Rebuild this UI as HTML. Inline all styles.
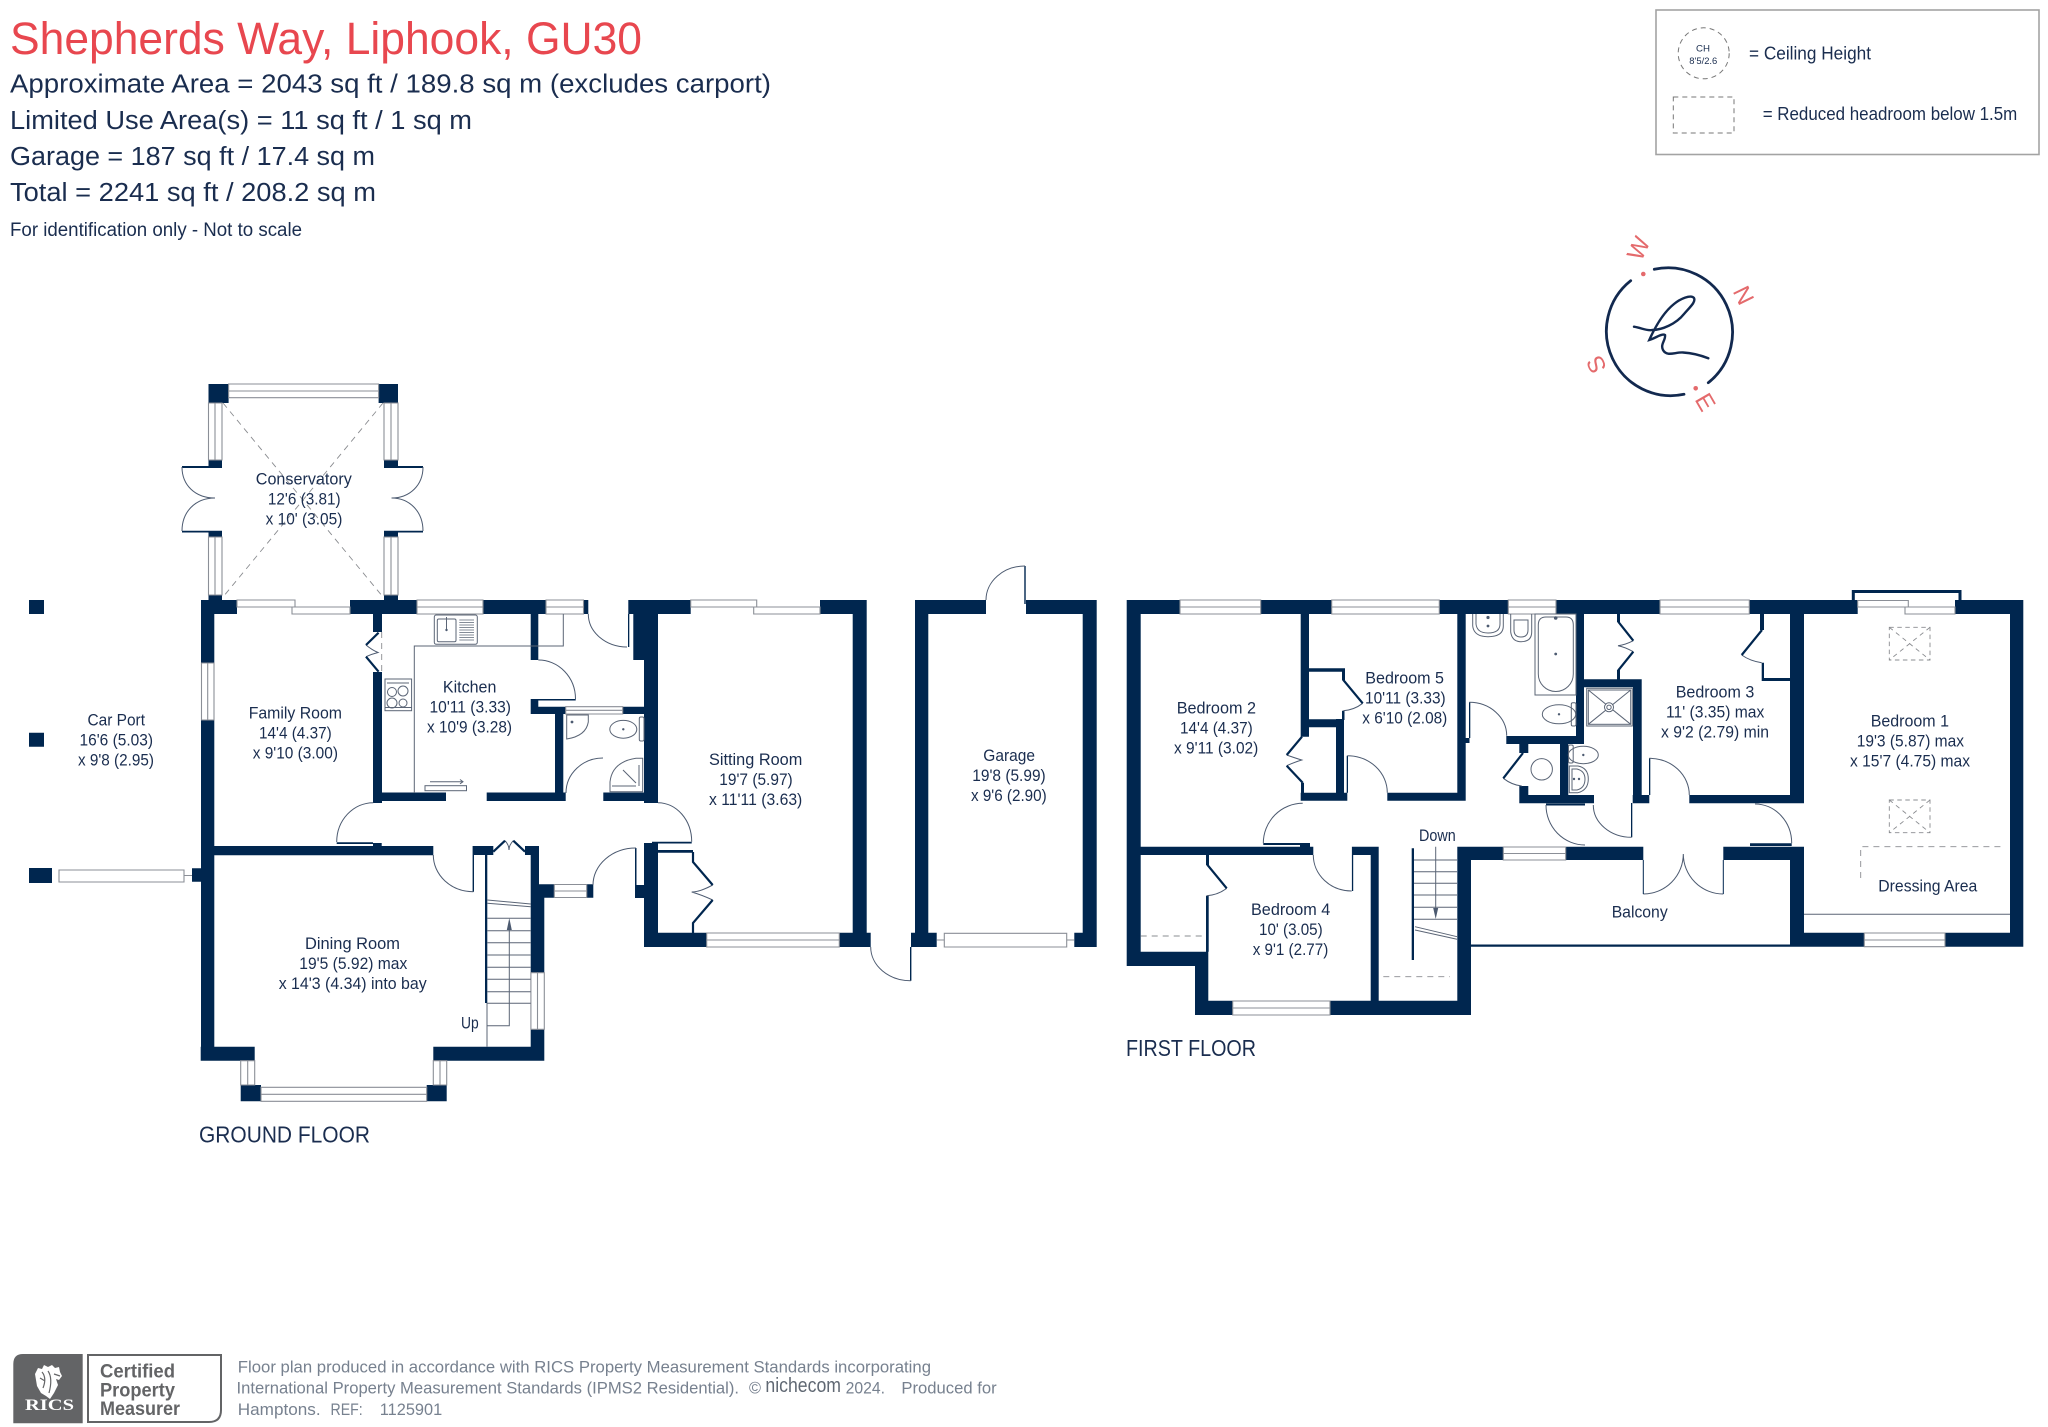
<!DOCTYPE html>
<html lang="en"><head><meta charset="utf-8"><title>Shepherds Way, Liphook, GU30</title>
<style>
html,body{margin:0;padding:0;background:#fff;width:2048px;height:1427px;overflow:hidden}
svg{display:block}
text{font-family:"Liberation Sans",sans-serif;fill:#1a2d4f}
.r text{font-size:16.5px}
.h text{font-size:25.5px}
.f text{font-size:16.5px;fill:#77818f}
.c text{font-size:24px;fill:#e46a6c;text-anchor:middle}
</style></head><body>
<svg xmlns="http://www.w3.org/2000/svg" width="2048" height="1427" viewBox="0 0 2048 1427">
<rect width="2048" height="1427" fill="#fff"/>

<!-- header -->
<text x="10" y="54" font-size="45" style="fill:#e8474f" textLength="632" lengthAdjust="spacingAndGlyphs">Shepherds Way, Liphook, GU30</text>
<g class="h">
<text x="10" y="92.5" textLength="761" lengthAdjust="spacingAndGlyphs">Approximate Area = 2043 sq ft / 189.8 sq m (excludes carport)</text>
<text x="10" y="129" textLength="462" lengthAdjust="spacingAndGlyphs">Limited Use Area(s) = 11 sq ft / 1 sq m</text>
<text x="10" y="165" textLength="365" lengthAdjust="spacingAndGlyphs">Garage = 187 sq ft / 17.4 sq m</text>
<text x="10" y="201" textLength="366" lengthAdjust="spacingAndGlyphs">Total = 2241 sq ft / 208.2 sq m</text>
</g>
<text x="10" y="236" font-size="19" textLength="292" lengthAdjust="spacingAndGlyphs">For identification only - Not to scale</text>

<!-- legend -->
<rect x="1656" y="10" width="383" height="144.5" fill="none" stroke="#a3a3a3" stroke-width="1.6"/>
<circle cx="1703.7" cy="53.3" r="25.5" fill="none" stroke="#777" stroke-width="1" stroke-dasharray="5 4"/>
<text x="1696" y="51.5" font-size="9.5" textLength="14" lengthAdjust="spacingAndGlyphs">CH</text>
<text x="1689.3" y="64" font-size="9.5" textLength="28" lengthAdjust="spacingAndGlyphs">8'5/2.6</text>
<text x="1749" y="59.3" font-size="18.5" textLength="122" lengthAdjust="spacingAndGlyphs">= Ceiling Height</text>
<rect x="1673.3" y="97" width="60.7" height="36" fill="none" stroke="#777" stroke-width="1" stroke-dasharray="5 4"/>
<text x="1762.7" y="120" font-size="18" textLength="254.6" lengthAdjust="spacingAndGlyphs">= Reduced headroom below 1.5m</text>

<!-- compass -->
<g fill="none" stroke="#12294f" stroke-width="2.8" stroke-linecap="round">
<path d="M1654.3 269.3A64.5 64.5 0 0 1 1708.3 382.7"/>
<path d="M1684 394.3A64.5 64.5 0 0 1 1630.7 280.7"/>
<path stroke-width="2.4" d="M1634 326.7C1642 328 1646 331 1652 330C1662 330 1676 324 1684 314C1690 307 1696 302 1694 298C1691 294 1680 299 1674 304C1664 312 1656 325 1649.3 340C1656 338 1662 333 1665 335C1666 340 1660 344 1663 350C1667 357 1675 352 1683 352.5C1692 353 1700 355 1708.3 358.3"/>
</g>
<circle cx="1643.3" cy="274" r="2.3" fill="#e46a6c"/><circle cx="1695.7" cy="388.3" r="2.3" fill="#e46a6c"/>
<g class="c">
<text transform="translate(1637.7 248) rotate(-65)" y="9">W</text>
<text transform="translate(1744.3 295) rotate(64)" y="9">N</text>
<text transform="translate(1706 401.7) rotate(60)" y="9">E</text>
<text transform="translate(1595.7 365) rotate(244)" y="9">S</text>
</g>

<!-- WALLS -->
<path fill="#00264f" d="
M208.5 384H228.6V403H208.5ZM378.6 384H398V403H378.6ZM208.5 460H222V467H208.5ZM384 460H398V467H384ZM182 466H222V468H182ZM384 466H423V468H384ZM182 530.7H222V532.5H182ZM384 530.7H423V532.5H384ZM208.5 531H222V537H208.5ZM384 531H398V537H384ZM208.5 595H222V600H208.5ZM384 595H398V600H384Z
M201 600H237V614H201ZM350 600H417V614H350ZM483 600H546V614H483ZM583.5 600H588.3V614H583.5ZM628.3 600H690.7V614H628.3ZM820 600H866.7V614H820ZM852.7 600H866.7V947H852.7Z
M201 600H214.3V663H201ZM201 720H214.3V1060.7H201ZM214 846H433.3V855.3H214ZM373 843H381.7V846H373ZM336.7 842.3H373V844H336.7Z
M373 614H382V632H373ZM373 672H382V803H373ZM382 792.5H446V801H382ZM486.7 792.5H565.7V801H486.7ZM530.7 614H538.3V660H530.7ZM530.7 699H538.3V714H530.7ZM538 699H575.7V700.5H538ZM530.7 706.7H565.7V714H530.7ZM555 714H563.3V793H555ZM603.3 792.5H645V801H603.3ZM622.7 706.7H645V714H622.7ZM644 660H658V803H644ZM633.3 614H658V660H633.3ZM628 614H629.3V647H628Z
M644 843H658V947H644ZM652 841.7H691.7V843.5H652ZM658 850H693V852.7H658ZM635 885H644V898H635ZM635 848H636.5V885H635ZM644 932.7H706.7V947H644ZM839.3 932.7H870.7V947H839.3Z
M473.3 846H493.3V855H473.3ZM472.6 846H474V891.7H472.6ZM525 846H539V855H525ZM485 846H487.3V1003H485ZM530.7 855H539V884.5H530.7ZM530.7 884.3H544.3V972.7H530.7ZM530.7 884.3H554.3V897.7H530.7ZM586.7 884.3H593.3V897.7H586.7ZM530.7 1029.3H544.3V1060.7H530.7ZM433.3 1046.7H544.3V1060.7H433.3ZM200.7 1046.7H254.7V1060.7H200.7ZM240.7 1085H261V1101.3H240.7ZM426.7 1085H446.7V1101.3H426.7ZM192 868.3H201V881.7H192Z
M29 600H44V614H29ZM29 732.7H44V746.7H29ZM29 868H52V883H29Z
M915 600H986V614H915ZM915 600H928.3V947H915ZM911 932.7H936.7V947H911ZM1026 600H1096.7V614H1026ZM1082.7 600H1096.7V947H1082.7ZM1074.3 932.7H1096.7V947H1074.3ZM1024.3 566H1025.7V604H1024.3ZM910 947H911.4V980.7H910Z
M1126.7 600H1180V614H1126.7ZM1260.7 600H1331.7V614H1260.7ZM1439.3 600H1508.3V614H1439.3ZM1556 600H1660V614H1556ZM1749.3 600H1857.7V614H1749.3ZM1955 600H2023.3V614H1955ZM2010 600H2023.3V946.7H2010ZM1790 614H1804V803.3H1790ZM1790 846.7H1804V946.7H1790ZM1790 932.7H1864.3V946.7H1790ZM1945 932.7H2023.3V946.7H1945Z
M1126.7 600H1140.7V966H1126.7ZM1126.7 951.7H1208.3V966H1126.7ZM1195 951.7H1208.3V1015H1195ZM1195 1000.7H1232.7V1015H1195ZM1330 1000.7H1471V1015H1330ZM1457.3 846.7H1471V1015H1457.3ZM1457.3 846.7H1503.3V860H1457.3ZM1565.7 846.7H1643.3V860H1565.7ZM1723.3 846.7H1804V860H1723.3ZM1471 944.5H1790V946.7H1471Z
M1140.7 846.7H1313.3V855H1140.7ZM1300 843H1310V847H1300ZM1263.3 843H1300V845H1263.3ZM1352.7 846.7H1378.7V855H1352.7ZM1351.9 846.7H1353.2V891H1351.9ZM1370.7 855H1378.7V1000.7H1370.7ZM1411.7 848.3H1414V960H1411.7Z
M1300.7 614H1309V736.7H1300.7ZM1301 782.7H1304V800.7H1301ZM1309 668.3H1343.3V671.7H1309ZM1300.7 719.3H1344V727.3H1300.7ZM1336 719H1344V800H1336ZM1300.7 792.7H1347.3V800.7H1300.7ZM1387.3 792.7H1465.7V800.7H1387.3ZM1457.3 614H1465.7V800.7H1457.3ZM1342 710.7H1344.5V720H1342ZM1342 668.3H1345V680H1342Z
M1465 738H1469.5V743H1465ZM1506.3 736H1584V744H1506.3ZM1576 614H1584V744H1576ZM1519.3 744H1528.3V753H1519.3ZM1519.3 786H1528.3V803.3H1519.3ZM1519.3 795H1594V803.3H1519.3ZM1560 744H1568.3V795H1560ZM1584 679.3H1641.7V687.3H1584ZM1633 679.3H1641.7V803.3H1633ZM1632.7 795H1649.3V803.3H1632.7ZM1689.3 795H1790V803.3H1689.3ZM1761.7 662.7H1764V680H1761.7ZM1761.7 678H1790V681H1761.7ZM1760 614H1764V630H1760ZM1617 614H1620V622H1617ZM1617 670H1620V680H1617ZM1631 803H1632.3V837.3H1631ZM1346.7 755.7H1348V792.7H1346.7ZM1206 855H1209V865H1206ZM1206 895.7H1208.7V951.7H1206ZM1546 803.5H1585V805.5H1546ZM1750 843.3H1791.7V846H1750ZM1469 702.3H1470.3V738H1469ZM1649 758.3H1650.3V795H1649Z"/>
<path fill="none" stroke="#00264f" stroke-width="3" d="M1853.3 600V591.5H1960V600"/>

<!-- WINDOWS -->
<g fill="#fff" stroke="#8b8f97" stroke-width="1.1">
<path d="M228.6 384H378.6V397.7H228.6ZM228.6 391H378.6"/>
<path d="M208.5 403H222V460H208.5ZM215 403V460M208.5 537H222V595H208.5ZM215 537V595M384 403H398V460H384ZM391 403V460M384 537H398V595H384ZM391 537V595"/>
<path d="M201.5 663H214V720H201.5ZM207.7 663V720"/>
<path d="M237 600H295V607H237ZM292 607H350V614H292Z"/>
<path d="M417 600H483V614H417ZM417 607H483M546 600H583.5V614H546ZM546 607H583.5"/>
<path d="M690.7 600H756.7V607H690.7ZM753.7 607H820V614H753.7Z"/>
<path d="M706.7 933H839.3V947H706.7ZM706.7 940H839.3"/>
<path d="M530.9 972.7H544.3V1029.3H530.9ZM537.5 972.7V1029.3"/>
<path d="M554.3 884.5H586.7V897.5H554.3ZM554.3 891H586.7"/>
<path d="M565.7 706.7H622.7V714H565.7ZM565.7 710.3H622.7"/>
<path d="M240.7 1060.7H254.7V1085H240.7ZM247.7 1060.7V1085M433.3 1060.7H446.7V1085H433.3ZM440 1060.7V1085"/>
<path d="M261 1087.3H426.7V1101.3H261ZM261 1094.3H426.7"/>
<path d="M59 870H184V882H59ZM184 875.5H192"/>
<path d="M944.3 933.3H1066.7V947H944.3ZM936.7 940H944.3M1066.7 940H1074.3"/>
<path d="M1180 600H1260.7V614H1180ZM1180 607H1260.7M1331.7 600H1439.3V614H1331.7ZM1331.7 607H1439.3M1508.3 600H1556V614H1508.3ZM1508.3 607H1556M1660 600H1749.3V614H1660ZM1660 607H1749.3"/>
<path d="M1857.7 600.5H1908.3V607H1857.7ZM1905 607H1955V614H1905Z"/>
<path d="M1864.3 933H1945V946.7H1864.3ZM1864.3 940H1945"/>
<path d="M1503.3 847H1565.7V860H1503.3ZM1503.3 853.5H1565.7"/>
<path d="M1232.7 1001H1330V1015H1232.7ZM1232.7 1008H1330"/>
</g>

<!-- DOOR ARCS -->
<g fill="none" stroke="#4c5a70" stroke-width="1">
<path d="M182 467C182 485 195 498 215 498C195 498 182 512 182 531M423 467C423 485 410 498 391.5 498C410 498 423 512 423 531"/>
<path d="M588.3 614A39 33 0 0 0 627 647M538.3 660A37 39 0 0 1 575.5 699M566 793A37 35 0 0 1 603 758M336.7 842A36.6 39.3 0 0 1 373.3 802.7M658 802.7A33.7 39 0 0 1 691.7 841.7M433.3 855A40 36.7 0 0 0 473.3 891.7M636 848A43 37 0 0 0 593 885M1025 566A39 34 0 0 0 986 600M870.7 947A40 33.7 0 0 0 910.7 980.7"/>
<path d="M1347.3 755.7A40 37 0 0 1 1387.3 792.7M1302.7 803.3A39.4 40 0 0 0 1263.3 843.3M1313.3 855A38.4 36 0 0 0 1351.7 891M1469.3 702.3A37.4 33.4 0 0 1 1506.7 735.7M1649.3 758.3A40 36.7 0 0 1 1689.3 795M1593.3 805A38.4 32.3 0 0 0 1631.7 837.3M1755 804A36.7 39.3 0 0 1 1791.7 843.3M1546 805A39 40 0 0 0 1585 845M1643.3 894A40 40 0 0 0 1683.3 854M1723.3 894A40 40 0 0 1 1683.3 854"/>
<path stroke="#00264f" d="M1643.3 860V894M1723.3 860V894"/>
<!-- wardrobe tips -->
<path d="M712.7 885Q700 892 691.7 892Q702 895 712.7 900M366 645Q372 650 378 652.5Q372 654 366 656.7M1633.3 640.7Q1625 645 1618 645.7Q1625 647 1633.3 651.7M1741.7 655Q1750 661 1761.7 662.7M1362.7 703.3Q1354 710 1343.3 710.7M1286.7 755Q1295 758 1301.7 760Q1295 762 1286.7 765.7M1226.7 888.3Q1218 895 1206.7 895.7M1503.3 778.3Q1512 785 1521.7 786M505 840.7Q509 845 509 850Q509 845 513.3 840.7"/>
</g>
<g fill="none" stroke="#00264f" stroke-width="2.2">
<path d="M693 852V862L712.7 885M712.7 900L693 923V933"/>
<path d="M378.6 632.7L366 645M366 656.7L378.6 671.7"/>
<path d="M493.3 851.7L505 840.7M513.3 840.7L525 851.7"/>
<path d="M1618.5 614V622L1633.3 640.7M1633.3 651.7L1618.5 670V680"/>
<path d="M1762 630L1741.7 655M1762 614V630"/>
<path d="M1343.3 671V680L1362.7 703.3"/>
<path d="M1302 736.7L1286.7 755M1286.7 765.7L1302.7 782.7"/>
<path d="M1207.5 855V865L1226.7 888.3"/>
<path d="M1523 753L1503.3 778.3"/>
</g>

<!-- DASHED -->
<g fill="none" stroke="#8a8c90" stroke-width="0.9" stroke-dasharray="6 5">
<path d="M223 403L383 597M383 403L223 597"/>
<path d="M381.7 632V672"/>
<path d="M1860.7 878V846.7H2003"/>
<path d="M1140.7 936H1206M1383.3 976.7H1450"/>
<path stroke-dasharray="4.5 3.5" d="M1889.3 627.3H1930V660H1889.3ZM1889.3 800H1930V832.7H1889.3Z"/>
<path stroke-dasharray="4.5 4" d="M1889.3 627.3L1930 660M1930 627.3L1889.3 660M1889.3 800L1930 832.7M1930 800L1889.3 832.7"/>
</g>

<!-- STAIRS & thin lines -->
<g fill="none" stroke="#5b6576" stroke-width="1">
<path d="M487.3 900L530.7 904M487.3 903.3L530.7 906.7M487.3 918.3H530.7M487.3 930.7H530.7M487.3 942.7H530.7M487.3 955H530.7M487.3 967.3H530.7M487.3 979.3H530.7M487.3 991.7H530.7M487.3 1003.3H530.7"/>
<path d="M509.3 925V1025.7H487.3M487 1003V1046.7"/>
<path d="M1414 860H1457M1414 871.7H1457M1414 883.3H1457M1414 895H1457M1414 907.3H1457M1414 919.3H1457M1415 926.7L1457 936.7M1415 930L1457 939.3M1435.7 846.7V914"/>
<path d="M1804 914.3H2010"/>
<!-- kitchen -->
<path d="M414.3 793V646H563.3V614"/>
<rect x="425" y="785.7" width="41.5" height="5"/>
<path d="M430 781.7H463M460 779.5L463 781.7L460 783.9"/>
<rect x="434.3" y="615" width="43" height="29.3" rx="2"/>
<rect x="437.3" y="619" width="18.7" height="22.7" rx="1.5"/>
<path stroke-width="0.7" d="M459.3 620H474M459.3 622.5H474M459.3 625H474M459.3 627.5H474M459.3 630H474M459.3 632.5H474M459.3 635H474M459.3 637.5H474M459.3 640H474"/>
<path d="M446.5 617V630"/>
<rect x="385" y="679" width="26.6" height="31.7"/>
<circle cx="392" cy="692" r="4.5"/><circle cx="403" cy="691" r="5"/><circle cx="392" cy="703" r="5"/><circle cx="403" cy="703" r="4"/>
<path d="M387 683H409M385 707.5H411.6"/>
<!-- WC -->
<path d="M566.7 715H588.3V722Q586 736 566.7 739Z"/>
<ellipse cx="623.3" cy="729.3" rx="13.5" ry="8.9"/>
<rect x="639.3" y="717" width="4.7" height="24" rx="1.5"/>
<path d="M642.7 758.3V791.7H610V782Q612 762 636 758.3ZM612 786H636M623 770L636 783M639 765V786"/>
<!-- bathroom -->
<rect x="1535" y="614" width="41" height="81"/>
<path d="M1538.3 625Q1538.3 617 1546 617H1566Q1573.3 617 1573.3 625V674A17.5 17.5 0 0 1 1538.3 674Z"/>
<path d="M1472.7 614V626Q1474 636.7 1488 636.7Q1503.3 636.7 1503.3 626V614M1476 614V624Q1477 633 1488 633Q1500 633 1500 624V614"/>
<path d="M1510.7 614V632Q1512 641.7 1521 641.7Q1531.7 641.7 1531.7 632V614M1514 620H1528V630Q1528 637 1521 637Q1514 637 1514 630Z"/>
<ellipse cx="1559" cy="714.3" rx="16.7" ry="9.5"/>
<rect x="1571.3" y="702.7" width="4.7" height="23.3" rx="1.5"/>
<circle cx="1541.7" cy="769.3" r="10.7"/>
<ellipse cx="1583.3" cy="755" rx="15" ry="8.7"/>
<rect x="1568.5" y="745" width="4.7" height="18" rx="1.5"/>
<path d="M1569.3 766H1578Q1588.3 768 1588.3 779Q1588.3 790 1578 792.7H1569.3ZM1572 769H1577Q1585 771 1585 779Q1585 788 1577 790H1572Z"/>
<rect x="1586.7" y="688.3" width="45.6" height="37.7"/>
<rect x="1588.3" y="690" width="42.4" height="34.3"/>
<path d="M1588.3 690L1630.7 724.3M1630.7 690L1588.3 724.3"/>
<circle cx="1609" cy="707.3" r="4.5" fill="#fff"/><circle cx="1609" cy="707.3" r="2.2"/>
</g>
<g fill="#4c5a70">
<path d="M506.8 930L509.3 918L511.8 930ZM1433.2 908L1435.7 919L1438.2 908Z"/>
<circle cx="623.3" cy="729.3" r="1.2"/><circle cx="1559" cy="714.3" r="1.2"/><circle cx="1583.3" cy="755" r="1.2"/><circle cx="1555.7" cy="654" r="1.4"/><circle cx="1488" cy="626" r="1.4"/><circle cx="1488" cy="617.5" r="1.6"/><circle cx="1555.7" cy="618" r="1.8"/><circle cx="446.5" cy="630" r="1.2"/><circle cx="572" cy="722" r="1.4"/><circle cx="1574" cy="779" r="1.2"/><circle cx="1579" cy="779" r="1.2"/>
</g>

<!-- ROOM LABELS -->
<g class="r">
<text x="255.8" y="484.3" textLength="96" lengthAdjust="spacingAndGlyphs">Conservatory</text>
<text x="267.9" y="504.3" textLength="72.7" lengthAdjust="spacingAndGlyphs">12'6 (3.81)</text>
<text x="265.6" y="524.3" textLength="76.8" lengthAdjust="spacingAndGlyphs">x 10' (3.05)</text>
<text x="87.5" y="725.7" textLength="57.5" lengthAdjust="spacingAndGlyphs">Car Port</text>
<text x="79.5" y="745.7" textLength="73.5" lengthAdjust="spacingAndGlyphs">16'6 (5.03)</text>
<text x="78" y="765.7" textLength="76" lengthAdjust="spacingAndGlyphs">x 9'8 (2.95)</text>
<text x="248.7" y="718.3" textLength="93.3" lengthAdjust="spacingAndGlyphs">Family Room</text>
<text x="259" y="738.3" textLength="72.7" lengthAdjust="spacingAndGlyphs">14'4 (4.37)</text>
<text x="252.7" y="758.3" textLength="85.3" lengthAdjust="spacingAndGlyphs">x 9'10 (3.00)</text>
<text x="442.9" y="692.7" textLength="53.5" lengthAdjust="spacingAndGlyphs">Kitchen</text>
<text x="429.5" y="712.7" textLength="81.5" lengthAdjust="spacingAndGlyphs">10'11 (3.33)</text>
<text x="427" y="732.7" textLength="85" lengthAdjust="spacingAndGlyphs">x 10'9 (3.28)</text>
<text x="305" y="949" textLength="95" lengthAdjust="spacingAndGlyphs">Dining Room</text>
<text x="299.3" y="969" textLength="108" lengthAdjust="spacingAndGlyphs">19'5 (5.92) max</text>
<text x="278.7" y="989" textLength="148" lengthAdjust="spacingAndGlyphs">x 14'3 (4.34) into bay</text>
<text x="461" y="1028.3" textLength="17.7" lengthAdjust="spacingAndGlyphs">Up</text>
<text x="709" y="765" textLength="93.3" lengthAdjust="spacingAndGlyphs">Sitting Room</text>
<text x="719.3" y="785" textLength="73.4" lengthAdjust="spacingAndGlyphs">19'7 (5.97)</text>
<text x="709" y="805" textLength="93.3" lengthAdjust="spacingAndGlyphs">x 11'11 (3.63)</text>
<text x="983.3" y="761" textLength="51.7" lengthAdjust="spacingAndGlyphs">Garage</text>
<text x="972.3" y="781" textLength="73.4" lengthAdjust="spacingAndGlyphs">19'8 (5.99)</text>
<text x="971" y="801" textLength="75.7" lengthAdjust="spacingAndGlyphs">x 9'6 (2.90)</text>
<text x="1176.7" y="713.3" textLength="79.3" lengthAdjust="spacingAndGlyphs">Bedroom 2</text>
<text x="1180" y="733.3" textLength="72.7" lengthAdjust="spacingAndGlyphs">14'4 (4.37)</text>
<text x="1174" y="753.3" textLength="84.3" lengthAdjust="spacingAndGlyphs">x 9'11 (3.02)</text>
<text x="1365.3" y="683.3" textLength="78.7" lengthAdjust="spacingAndGlyphs">Bedroom 5</text>
<text x="1365" y="703.3" textLength="80.7" lengthAdjust="spacingAndGlyphs">10'11 (3.33)</text>
<text x="1362.3" y="723.3" textLength="85" lengthAdjust="spacingAndGlyphs">x 6'10 (2.08)</text>
<text x="1251" y="915" textLength="79.3" lengthAdjust="spacingAndGlyphs">Bedroom 4</text>
<text x="1259" y="935" textLength="63.7" lengthAdjust="spacingAndGlyphs">10' (3.05)</text>
<text x="1252.7" y="955" textLength="75.6" lengthAdjust="spacingAndGlyphs">x 9'1 (2.77)</text>
<text x="1419" y="841" font-size="15" textLength="36.7" lengthAdjust="spacingAndGlyphs">Down</text>
<text x="1675.7" y="697.3" textLength="78.6" lengthAdjust="spacingAndGlyphs">Bedroom 3</text>
<text x="1666" y="717.3" textLength="98.3" lengthAdjust="spacingAndGlyphs">11' (3.35) max</text>
<text x="1661" y="737.3" textLength="108" lengthAdjust="spacingAndGlyphs">x 9'2 (2.79) min</text>
<text x="1870.7" y="726.7" textLength="78.3" lengthAdjust="spacingAndGlyphs">Bedroom 1</text>
<text x="1856.7" y="746.7" textLength="107.3" lengthAdjust="spacingAndGlyphs">19'3 (5.87) max</text>
<text x="1850" y="766.7" textLength="120" lengthAdjust="spacingAndGlyphs">x 15'7 (4.75) max</text>
<text x="1878.3" y="891.7" textLength="99" lengthAdjust="spacingAndGlyphs">Dressing Area</text>
<text x="1611.7" y="917.3" textLength="56" lengthAdjust="spacingAndGlyphs">Balcony</text>
</g>
<text x="199" y="1142.7" font-size="23" textLength="171" lengthAdjust="spacingAndGlyphs">GROUND FLOOR</text>
<text x="1126" y="1056" font-size="23" textLength="130" lengthAdjust="spacingAndGlyphs">FIRST FLOOR</text>

<!-- FOOTER -->
<path fill="#636466" d="M23 1354H82.7V1423.3H13.3V1364Q13.3 1354 23 1354Z"/>
<path fill="#fff" d="M35 1374L38 1368L42 1369L44 1365L48 1367L52 1365L55 1368L59 1367L60 1372L62 1376L59 1380L56 1379L58 1385L54 1393L50 1399L46 1396L41 1393L37 1386Z"/>
<path fill="none" stroke="#636466" stroke-width="1.2" d="M42 1372Q47 1378 43 1388M48 1371Q53 1378 49 1393M54 1374L60 1376M40 1378L45 1381"/>
<text x="25" y="1410" font-size="15.5" font-weight="700" textLength="49" lengthAdjust="spacingAndGlyphs" style="font-family:'Liberation Serif',serif;fill:#fff">RICS</text>
<path fill="none" stroke="#636466" stroke-width="2" d="M88 1355H221V1410Q221 1422 209 1422H88Z"/>
<g style="font-weight:700" font-size="19">
<text x="100" y="1377.3" textLength="75" lengthAdjust="spacingAndGlyphs" style="fill:#636466">Certified</text>
<text x="100" y="1396.7" textLength="75" lengthAdjust="spacingAndGlyphs" style="fill:#636466">Property</text>
<text x="100" y="1415" textLength="80" lengthAdjust="spacingAndGlyphs" style="fill:#636466">Measurer</text>
</g>
<g class="f">
<text x="237.8" y="1372.3" textLength="693.2" lengthAdjust="spacingAndGlyphs">Floor plan produced in accordance with RICS Property Measurement Standards incorporating</text>
<text x="236.5" y="1393.5" textLength="502.5" lengthAdjust="spacingAndGlyphs">International Property Measurement Standards (IPMS2 Residential).</text>
<text x="749" y="1393.5" font-size="13" textLength="12" lengthAdjust="spacingAndGlyphs">©</text>
<text x="765.4" y="1392" style="font-size:20px;fill:#606873" textLength="75.6" lengthAdjust="spacingAndGlyphs">nichecom</text>
<text x="845.6" y="1393.5" textLength="39.4" lengthAdjust="spacingAndGlyphs">2024.</text>
<text x="901.4" y="1393.5" textLength="95.3" lengthAdjust="spacingAndGlyphs">Produced for</text>
<text x="237.8" y="1415" textLength="82.8" lengthAdjust="spacingAndGlyphs">Hamptons.</text>
<text x="330.5" y="1415" textLength="32.2" lengthAdjust="spacingAndGlyphs">REF:</text>
<text x="379.8" y="1415" textLength="62.4" lengthAdjust="spacingAndGlyphs">1125901</text>
</g>
</svg>
</body></html>
